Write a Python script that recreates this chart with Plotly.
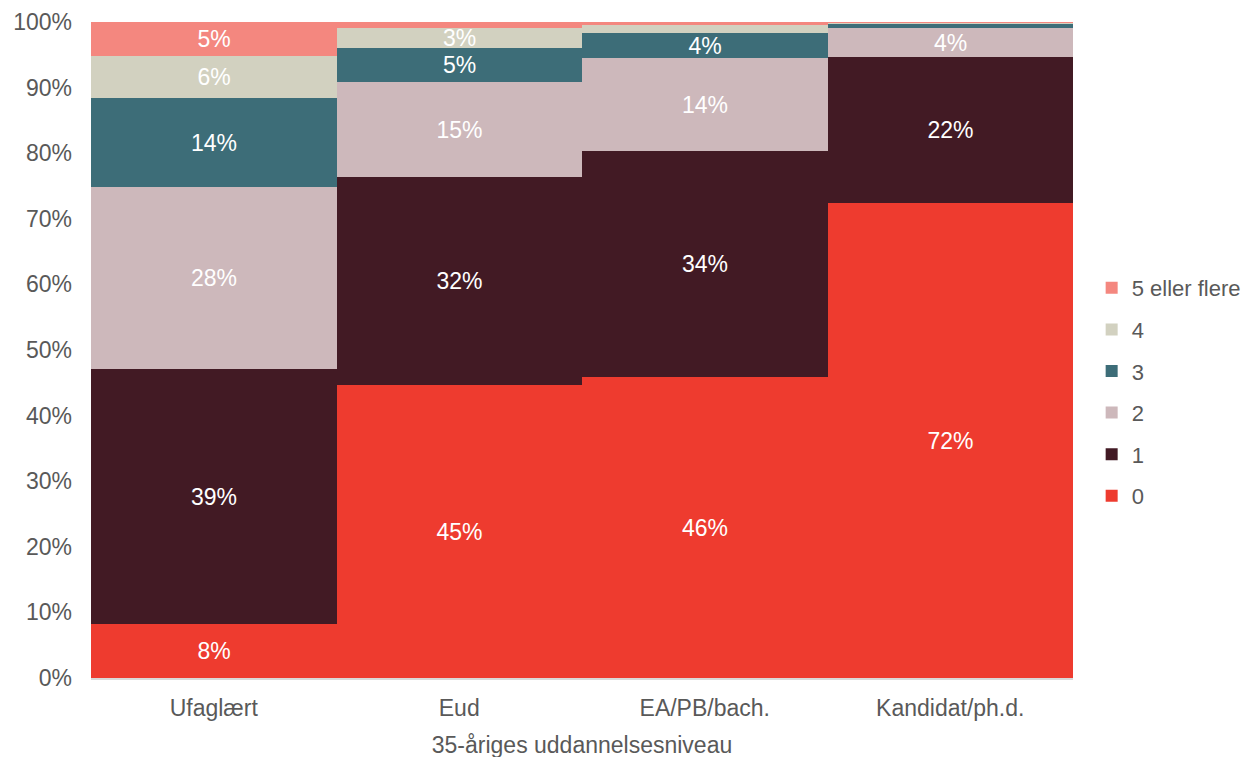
import plotly.graph_objects as go

categories = ["Ufaglært", "Eud", "EA/PB/bach.", "Kandidat/ph.d."]
series_names = ["0", "1", "2", "3", "4", "5 eller flere"]
v0 = [8.2, 44.7, 45.9, 72.4]
v1 = [38.9, 31.6, 34.4, 22.3]
v2 = [27.7, 14.6, 14.2, 4.4]
v3 = [13.6, 5.2, 3.8, 0.7]
v4 = [6.4, 3.0, 1.2, 0.1]
v5 = [5.2, 0.9, 0.5, 0.1]
colors = ["#EE3B2F", "#421A24", "#CDB8BB", "#3D6D78", "#D2D1C0", "#F4877F"]

series = [v0, v1, v2, v3, v4, v5]
FONT = "Liberation Sans, Arial, sans-serif"

fig = go.Figure()
n = len(series)
for i, (name, vals, col) in enumerate(zip(series_names, series, colors)):
    txt = [f"{round(v)}%" if v >= 2.5 else "" for v in vals]
    fig.add_trace(go.Bar(
        x=categories, y=vals, name=name, legendgroup=name, legendrank=1000 + (n - i),
        marker=dict(color=col, line=dict(width=0)),
        text=txt, textposition="inside", insidetextanchor="middle",
        textfont=dict(color="white", size=23, family=FONT),
        hoverinfo="x+y+name",
    ))

fig.update_layout(
    barmode="stack", bargap=0,
    width=1250, height=757,
    margin=dict(l=83, r=185, t=14, b=87),
    plot_bgcolor="white", paper_bgcolor="white",
    font=dict(family=FONT, size=23, color="#595959"),
    uniformtext=dict(minsize=23, mode="show"),
    legend=dict(traceorder="grouped", x=1.019, xanchor="left", y=0.436, yanchor="middle",
                font=dict(size=22, color="#595959"), itemwidth=30, tracegroupgap=10),
    showlegend=True,
)
fig.update_xaxes(showline=True, linecolor="#D9D9D9", linewidth=1.5, ticks="", automargin=False,
                 ticklabelstandoff=9,
                 title=dict(text="35-åriges uddannelsesniveau", font=dict(size=23, color="#595959"), standoff=17),
                 tickfont=dict(size=23, color="#595959"))
fig.update_yaxes(range=[0, 100], dtick=10, ticksuffix="%", showgrid=False, zeroline=False,
                 showline=False, automargin=False, ticklabelstandoff=18,
                 tickfont=dict(size=23, color="#595959"))

fig.write_html("out.html")
